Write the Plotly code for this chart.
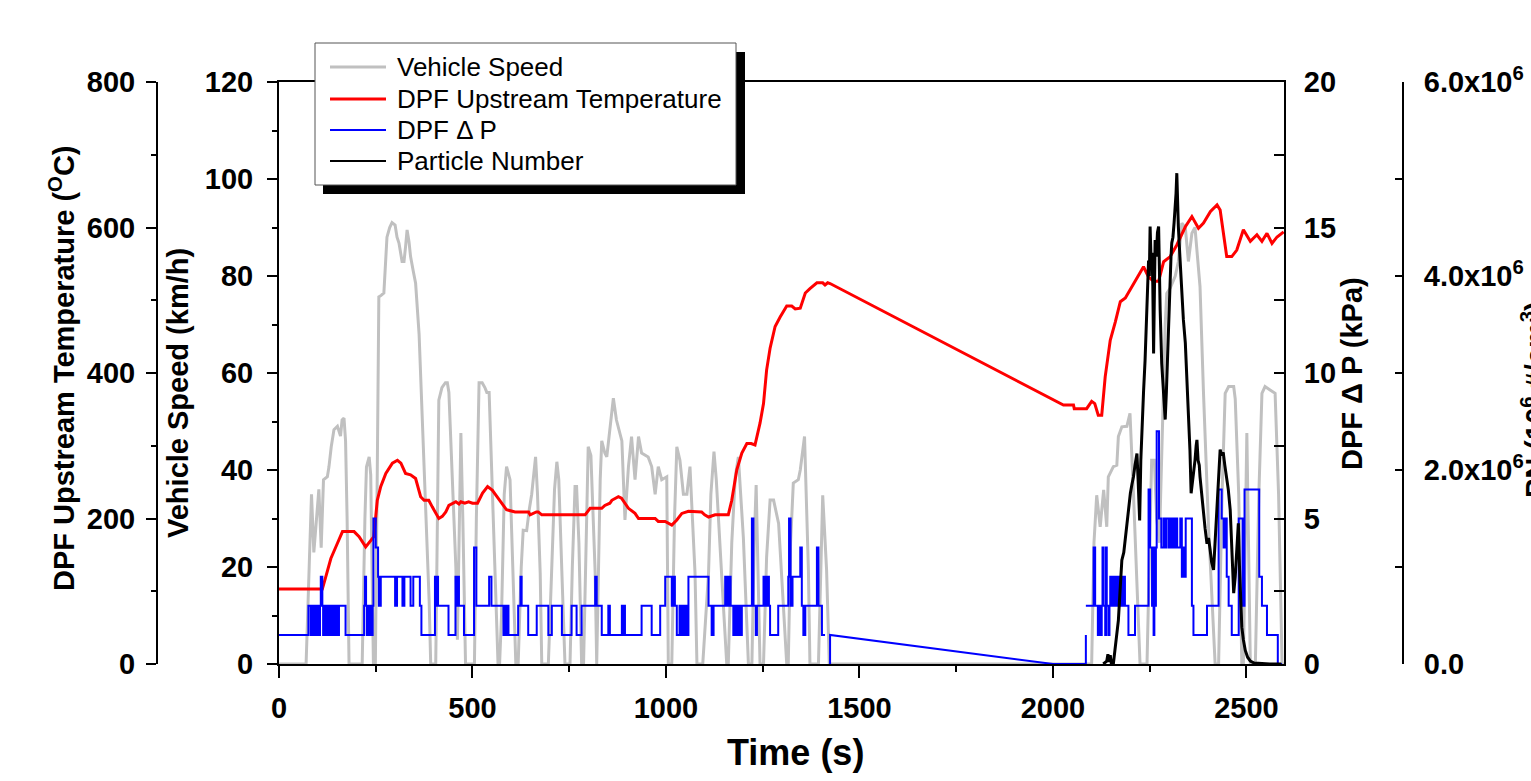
import plotly.graph_objects as go

# ---------------- data ----------------
speed_t = [0, 70, 78, 84, 90, 97, 103, 109, 115, 125, 129, 135, 142, 151, 159, 163, 168, 172, 176, 181,
           215, 222, 226, 233, 237, 244, 249, 254, 258, 264, 271, 279, 286, 292, 300, 305, 310, 318, 323,
           327, 331, 336, 340, 347, 353, 362, 370, 379, 388, 392,
           405, 413, 421, 430, 435, 439, 447, 457, 461, 466, 470, 475, 482, 505, 510, 517, 525, 532, 537,
           543, 550, 560, 566,
           570, 575, 582, 588, 597, 602, 606, 612,
           618, 626, 631, 640, 647, 653, 663, 668, 675, 679,
           696, 705, 712, 718, 723, 731, 739,
           752, 758, 765, 769, 775, 782,
           787, 793, 799, 806, 812, 817, 821,
           825, 830, 834, 842, 847, 855, 864, 872, 881, 886, 894, 903, 911, 920, 929, 937, 954, 963, 972,
           980, 989, 1002, 1006,
           1015, 1022, 1028, 1036, 1045, 1054, 1062, 1075, 1080,
           1095, 1102, 1110, 1116, 1124, 1130, 1140, 1148, 1157,
           1161, 1170, 1179, 1187, 1200, 1213,
           1222, 1228, 1233, 1243,
           1252, 1260, 1269, 1278, 1291, 1303, 1312,
           1316, 1322, 1329, 1342, 1347, 1358, 1368, 1372,
           1394, 1400, 1405, 1415, 1422,
           2100, 2106, 2113, 2122, 2131, 2139, 2143, 2156, 2165, 2169, 2178, 2191, 2199, 2208, 2225,
           2243, 2250, 2255, 2262, 2268, 2275, 2283, 2290, 2294, 2303, 2316, 2324, 2333, 2342, 2350,
           2359, 2367, 2372, 2380, 2389, 2402, 2419,
           2428, 2437, 2445, 2454, 2467, 2471, 2480, 2488,
           2492, 2501, 2510,
           2523, 2532, 2540, 2548, 2561, 2574, 2583, 2592, 2600]
speed_v = [0, 0, 20, 35, 23, 30, 36, 24, 38, 38.6, 40.6, 44.8, 48.3, 49, 47, 50.3, 50.7, 46, 30, 0,
           0, 30, 40.6, 42.7, 39, 0, 0, 40, 75.7, 76, 76.5, 88, 90, 91, 90.5, 88, 86.8, 83, 83,
           86, 89.5, 87, 84, 81, 78.5, 68, 51, 34, 13, 0,
           0, 54.4, 57, 58, 58, 56, 40.6, 20, 5, 30, 47.6, 30, 0, 0, 30, 58, 58, 57, 56,
           56, 40, 15, 0,
           0, 10, 35, 40.7, 38, 25, 11.8, 0,
           0, 20, 27.6, 27.5, 32, 35, 42.7, 35, 18.7, 0,
           0, 20, 36, 41.7, 38, 18.8, 0,
           0, 20, 36.6, 36.6, 25, 0,
           0, 25, 44.8, 43, 30, 18.8, 0,
           20, 38, 46, 43.5, 42.7, 49, 54.8, 50.3, 47.6, 46, 29.7, 40.7, 46.9, 38, 46.9, 43.5, 42.7, 40.7, 35,
           40.7, 38, 38.6, 0,
           0, 30, 44.8, 42, 35, 35, 40.7, 18.8, 0,
           0, 10, 18.8, 35, 43.8, 38, 25, 12.5, 0,
           0, 25, 38.6, 42.7, 26, 0,
           0, 25, 36.9, 0,
           0, 22, 33.8, 33.8, 29, 12.5, 0,
           0, 25, 37.3, 38, 40, 46.9, 19.4, 0,
           0, 22, 34.8, 19.4, 0,
           0, 25, 34.8, 28.3, 35.9, 28.3, 38.6, 40.7, 41, 46.9, 48.9, 49, 51.7, 35.2, 0,
           0, 25, 42, 42, 30, 25, 50, 70, 76.4, 77.5, 80, 83, 90.9, 90, 83,
           88.8, 90, 85, 77.8, 55.8, 28.3, 0,
           0, 35, 55.8, 57.2, 57.2, 54.6, 35, 0,
           0, 47.6, 0,
           0, 35, 55.8, 57.2, 56.5, 55.8, 35, 0, 0]

temp_t = [0, 112, 121, 134, 151, 164, 194, 207, 224, 237, 245, 254, 263, 276, 293, 306, 315, 327, 340,
          353, 366, 375, 387, 396, 413, 422, 431, 439, 457, 465, 470, 480, 490, 500, 513, 526, 539, 551,
          564, 571, 588, 610, 645, 649, 665, 670, 679, 791, 804, 834, 842, 855, 860, 877, 885, 903, 920,
          929, 972, 980, 998, 1015, 1028, 1041, 1058, 1092, 1100, 1110, 1127, 1161, 1170, 1183, 1196,
          1209, 1220, 1230, 1243, 1252, 1260, 1269, 1282, 1295, 1312, 1325, 1334, 1347, 1360, 1372, 1390,
          1405, 1411, 1418, 1424, 2027, 2053, 2055, 2087, 2100, 2108, 2117, 2126, 2135, 2148, 2161, 2174,
          2187, 2204, 2221, 2234, 2247, 2260, 2273, 2286, 2303, 2320, 2342, 2359, 2376, 2389, 2407, 2424,
          2432, 2441, 2449, 2462, 2475, 2492, 2510, 2527, 2540, 2553, 2566, 2579, 2596]
temp_v = [103, 103, 120, 145, 166, 182, 182, 175, 161, 170, 175, 225, 244, 262, 276, 280, 276, 262, 260,
          255, 230, 225, 225, 216, 200, 203, 209, 218, 223, 220, 223, 221, 223, 221, 221, 235, 244, 239,
          230, 225, 212, 209, 209, 205, 209, 209, 205, 205, 214, 214, 218, 221, 225, 230, 228, 214, 207,
          200, 200, 196, 196, 191, 198, 207, 210, 209, 205, 202, 205, 205, 225, 267, 290,
          303, 303, 301, 331, 358, 404, 434, 464, 477, 492, 492, 488, 489, 510, 516, 524,
          524, 521, 524, 523, 356, 356, 351, 351, 361, 358, 342, 342, 395, 445, 470, 498,
          503, 519, 535, 546, 532, 526, 526, 553, 560, 576, 601, 615, 599, 606, 622, 631,
          624, 592, 560, 560, 569, 597, 581, 590, 581, 592, 578, 587, 594]

# DPF pressure drop (kPa), step signal
dp_t = [0, 76, 82, 85, 88, 93, 96, 100, 103, 106, 108, 112, 114, 116, 119, 121, 124, 126, 129, 131, 134,
        136, 139, 142, 146, 150, 153, 155, 172,
        220, 222, 225, 227, 229, 231, 233, 235, 237, 240, 242, 244, 250, 256, 258, 263, 300, 305, 319,
        324, 340, 347, 364, 368,
        403, 406, 408, 411, 438, 456, 460, 462, 465, 478, 504, 510, 543, 549, 580, 583, 586, 589, 593,
        618, 624, 627, 644, 666, 696, 705, 731, 756, 769, 782, 817, 821, 834, 851, 855, 886, 889, 891,
        894, 937, 963, 985, 998, 1015, 1020, 1023, 1028, 1035, 1038, 1042, 1045, 1050, 1053, 1058,
        1110, 1118, 1123,
        1153, 1157, 1160, 1162, 1165, 1167, 1174, 1178, 1180, 1183, 1186, 1189, 1191, 1196, 1222, 1226,
        1232, 1235, 1252, 1255, 1258, 1261, 1264, 1266, 1269, 1290, 1316, 1318, 1322, 1327, 1347, 1351,
        1355, 1360, 1390, 1394, 1403, 1411, 1424,
        None,
        2085, 2105, 2109, 2116, 2118, 2122, 2126, 2128, 2131, 2135, 2137, 2139, 2143, 2146, 2148, 2152,
        2156, 2158, 2162, 2165, 2169, 2172, 2176, 2179, 2183, 2186, 2195, 2212, 2247, 2251, 2256, 2258,
        2260, 2262, 2264, 2266, 2268, 2274, 2280, 2286, 2290, 2293, 2299, 2303, 2307, 2310, 2314, 2318,
        2321, 2329, 2333, 2337, 2340, 2343, 2359, 2363, 2398, 2428, 2436, 2441, 2446, 2449, 2454, 2462,
        2480, 2490, 2495, 2533, 2540, 2553, 2581, 2592, 2600]
dp_v = [1, 2, 1, 2, 1, 2, 1, 2, 1, 2, 3, 2, 1, 2, 1, 2, 1, 2, 1, 2, 1,
        2, 1, 2, 1, 2, 1, 2, 1,
        2, 3, 2, 1, 2, 1, 2, 1, 2, 1, 2, 5, 4, 3, 2, 3, 2, 3, 2,
        3, 2, 3, 2, 1,
        3, 2, 3, 2, 1, 3, 2, 3, 2, 1, 4, 2, 3, 2, 1, 2, 1, 2, 1,
        2, 3, 2, 1, 2, 1, 2, 1, 2, 1, 2, 3, 2, 1, 2, 1, 2, 1,
        2, 1, 2, 1, 2, 3, 2, 3, 2, 1, 2, 1, 2, 1, 2, 1,
        3, 2, 1,
        2, 3, 2, 3, 2, 3, 2, 1, 2, 1, 2, 1, 2, 1, 2, 5,
        2, 1, 2, 3, 2, 3, 2, 3, 2, 1, 2, 3, 5, 2, 3, 4,
        2, 1, 2, 4, 2, 1, 1,
        None,
        1, 2, 4, 2, 1, 2, 1, 2, 4, 2, 1, 4, 2, 1, 2, 3,
        2, 3, 2, 3, 2, 3, 2, 3, 2, 3, 2, 1, 2, 6, 4, 2,
        4, 1, 4, 2, 4, 8, 5, 4, 5, 4, 5, 4, 5, 4, 5, 4,
        5, 4, 5, 3, 4, 3, 5, 2, 1, 2, 6, 5, 4, 5, 3, 2,
        1, 5, 2, 6, 3, 2, 1, 0, 0]

# pressure-drop record while the logger was off (straight joining segment)
dp_gap_t = [1424, 1424, 2000, 2085, 2085]
dp_gap_v = [0, 1, 0, 0, 1]

pn_t = [2130, 2139, 2142, 2145, 2148, 2151, 2156, 2162, 2169, 2174, 2178, 2183, 2187, 2192, 2196, 2200,
        2204, 2208, 2212, 2217, 2220, 2224, 2227, 2230, 2234, 2238, 2242, 2247, 2249, 2251, 2254, 2256,
        2258, 2260, 2262, 2264, 2267, 2270, 2273, 2275, 2277, 2281, 2286, 2288, 2290, 2293, 2296, 2300,
        2303, 2305, 2307, 2310, 2313, 2316, 2318, 2320, 2322, 2324, 2328, 2333, 2337, 2342, 2346, 2350,
        2354, 2357, 2360, 2363, 2367, 2370, 2372, 2375, 2378, 2380, 2384, 2389, 2393, 2398, 2402, 2406,
        2410, 2415, 2419, 2423, 2427, 2432, 2436, 2440, 2444, 2449, 2453, 2458, 2462, 2467, 2471, 2475,
        2479, 2482, 2485, 2488, 2492, 2497, 2503, 2510, 2520, 2540, 2560, 2590]
pn_v = [0, 30000, 100000, 20000, 90000, 0, 0, 200000, 450000, 800000, 1070000, 1150000, 1310000,
        1450000, 1600000, 1760000, 1850000, 1930000, 2050000, 2170000, 1900000, 1480000, 2100000,
        2450000, 2800000, 3130000, 3700000, 4160000, 4000000, 4510000, 4100000, 4240000, 3900000,
        3200000, 3800000, 4370000, 4200000, 4450000, 4510000, 4000000, 3650000, 3100000, 2790000,
        2650000, 2520000, 2800000, 3200000, 3700000, 3990000, 4200000, 4340000, 4400000, 4550000,
        4680000, 4850000, 5060000, 4700000, 4510000, 4200000, 3820000, 3550000, 3310000, 2950000,
        2620000, 2200000, 1760000, 1850000, 1930000, 2100000, 2250000, 2310000, 2100000, 2050000,
        1930000, 1750000, 1590000, 1400000, 1240000, 1300000, 1180000, 1050000, 970000, 1250000,
        1590000, 1900000, 2210000, 2150000, 2180000, 2050000, 1900000, 1800000, 1590000, 1200000,
        730000, 900000, 1200000, 1450000, 1000000, 600000, 380000, 250000, 140000, 70000, 30000,
        10000, 3000, 1000, 0]

x_ticks = [0, 500, 1000, 1500, 2000, 2500]
speed_ticks = [0, 20, 40, 60, 80, 100, 120]
temp_ticks = [0, 200, 400, 600, 800]
dp_ticks = [0, 5, 10, 15, 20]
pn_ticks = [0, 2e6, 4e6, 6e6]
pn_ticktext = ["0.0", "2.0x10<sup>6</sup>", "4.0x10<sup>6</sup>", "6.0x10<sup>6</sup>"]

legend_names = ["Vehicle Speed", "DPF Upstream Temperature", "DPF Δ P", "Particle Number"]
legend_colors = ["#c0c0c0", "#ff0000", "#0000ff", "#000000"]
legend_widths = [3, 3, 2, 2]

# ---------------- layout geometry ----------------
W, H = 1531, 781
PL, PR, PT, PB = 279, 1284, 82, 664
FONT = "Liberation Sans, Arial, sans-serif"


def px(x):
    return x / W


def py(y):
    return (PB - y) / (PB - PT)


tickfont = dict(family=FONT, size=29, color="black", weight="bold")
axline = dict(showline=True, linecolor="black", linewidth=2, showgrid=False, zeroline=False,
              tickcolor="black", tickwidth=2, tickfont=tickfont)

fig = go.Figure()
fig.add_trace(go.Scatter(x=speed_t, y=speed_v, mode="lines", name=legend_names[0],
                         line=dict(color=legend_colors[0], width=3), yaxis="y"))
fig.add_trace(go.Scatter(x=temp_t, y=temp_v, mode="lines", name=legend_names[1],
                         line=dict(color=legend_colors[1], width=3), yaxis="y2"))
fig.add_trace(go.Scatter(x=dp_t, y=dp_v, mode="lines", name=legend_names[2],
                         line=dict(color=legend_colors[2], width=2, shape="hv"), yaxis="y3",
                         connectgaps=False))
fig.add_trace(go.Scatter(x=dp_gap_t, y=dp_gap_v, mode="lines", name=legend_names[2],
                         line=dict(color=legend_colors[2], width=2), yaxis="y3"))
fig.add_trace(go.Scatter(x=pn_t, y=pn_v, mode="lines", name=legend_names[3],
                         line=dict(color=legend_colors[3], width=3), yaxis="y4"))

fig.update_layout(
    width=W, height=H,
    margin=dict(l=0, r=0, t=PT, b=H - PB, autoexpand=False),
    paper_bgcolor="white", plot_bgcolor="white",
    font=dict(family=FONT, color="black"),
    showlegend=False,
    xaxis=dict(domain=[px(PL), px(PR)], range=[0, 2597], tickvals=x_ticks, ticks="outside",
               ticklen=12, mirror=True, ticklabelstandoff=5,
               minor=dict(dtick=250, ticklen=6, ticks="outside", tickwidth=2, tickcolor="black"),
               **axline),
    yaxis=dict(range=[0, 120], tickvals=speed_ticks, ticks="outside", ticklen=10,
               ticklabelstandoff=8,
               minor=dict(dtick=10, ticklen=5, ticks="outside", tickwidth=2, tickcolor="black"),
               **axline),
    yaxis2=dict(overlaying="y", anchor="free", position=px(157), side="left", range=[0, 800],
                tickvals=temp_ticks, ticks="outside", ticklen=10, ticklabelstandoff=5,
                minor=dict(dtick=100, ticklen=5, ticks="outside", tickwidth=2, tickcolor="black"),
                **axline),
    yaxis3=dict(overlaying="y", anchor="x", side="right", range=[0, 20], tickvals=dp_ticks,
                ticks="inside", ticklen=10, ticklabelstandoff=12,
                minor=dict(dtick=2.5, ticklen=10, ticks="inside", tickwidth=2, tickcolor="black"),
                **axline),
    yaxis4=dict(overlaying="y", anchor="free", position=px(1403), side="right", range=[0, 6e6],
                tickvals=pn_ticks, ticktext=pn_ticktext, ticks="inside", ticklen=7,
                ticklabelstandoff=14,
                minor=dict(dtick=1e6, ticklen=7, ticks="inside", tickwidth=2, tickcolor="black"),
                **axline),
)

# ---------------- legend box (drawn as a framed key) ----------------
fig.add_shape(type="rect", xref="paper", yref="paper", x0=px(323), x1=px(745), y0=py(194), y1=py(52),
              fillcolor="black", line=dict(width=0), layer="above")
fig.add_shape(type="rect", xref="paper", yref="paper", x0=px(315), x1=px(736), y0=py(185), y1=py(43),
              fillcolor="white", line=dict(color="#555555", width=1), layer="above")
legend_rows = [67, 99, 130, 161]
for name, col, lw, yy in zip(legend_names, legend_colors, legend_widths, legend_rows):
    fig.add_shape(type="line", xref="paper", yref="paper", x0=px(330), x1=px(386), y0=py(yy), y1=py(yy),
                  line=dict(color=col, width=lw), layer="above")
    fig.add_annotation(text=name, xref="paper", yref="paper", x=px(395), y=py(yy), xanchor="left",
                       yanchor="middle", showarrow=False,
                       font=dict(family=FONT, size=26, color="black"))

title_font = dict(family=FONT, size=29, color="black", weight="bold")
fig.add_annotation(text="DPF Upstream Temperature (<sup>O</sup>C)", xref="paper", yref="paper",
                   x=px(62), y=py(368), xanchor="center", yanchor="middle", textangle=-90,
                   showarrow=False, font=title_font)
fig.add_annotation(text="Vehicle Speed (km/h)", xref="paper", yref="paper",
                   x=px(178), y=py(393), xanchor="center", yanchor="middle", textangle=-90,
                   showarrow=False, font=title_font)
fig.add_annotation(text="DPF Δ P (kPa)", xref="paper", yref="paper",
                   x=px(1352), y=py(374), xanchor="center", yanchor="middle", textangle=-90,
                   showarrow=False, font=title_font)
fig.add_annotation(text="PN (10<sup>6</sup> #/cm<sup>3</sup>)", xref="paper", yref="paper",
                   x=px(1534), y=py(400), xanchor="center", yanchor="middle", textangle=-90,
                   showarrow=False, font=title_font)
fig.add_annotation(text="Time (s)", xref="paper", yref="paper",
                   x=px(796), y=py(752), xanchor="center", yanchor="middle", showarrow=False,
                   font=dict(family=FONT, size=36, color="black", weight="bold"))

fig.write_html("out.html")
